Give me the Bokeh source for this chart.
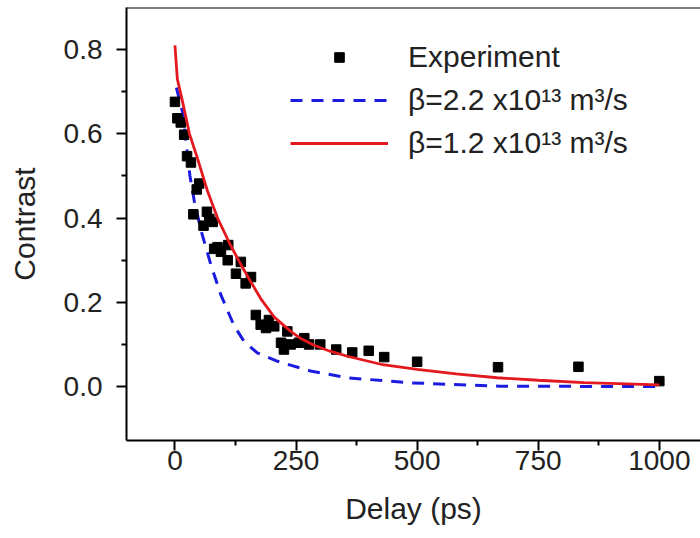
from bokeh.plotting import figure
from bokeh.models import Range1d, FixedTicker, Legend, LegendItem, Span, PrintfTickFormatter
from bokeh.embed import file_html
from bokeh.resources import INLINE

# ---- data ----
exp_delay = [0, 5, 12, 19, 25, 33, 38, 45, 50, 59, 66, 71, 78, 81, 88, 95, 110, 109, 126, 136,
             146, 157, 167, 177, 188, 194, 205, 219, 225, 232, 239, 256, 267, 277, 300, 333,
             366, 400, 432, 500, 667, 833, 1000]
exp_contrast = [0.676, 0.637, 0.627, 0.598, 0.547, 0.532, 0.409, 0.468, 0.482, 0.382, 0.415, 0.398,
                0.391, 0.327, 0.331, 0.320, 0.336, 0.300, 0.268, 0.296, 0.245, 0.260, 0.170, 0.147,
                0.139, 0.158, 0.143, 0.104, 0.088, 0.131, 0.100, 0.104, 0.115, 0.100, 0.100, 0.088,
                0.081, 0.085, 0.070, 0.059, 0.046, 0.047, 0.013]

fit22_delay = [3, 16, 23, 31, 40, 54, 74, 95, 122, 140, 155, 170, 212, 280, 356, 483, 672, 1000]
fit22_contrast = [0.71, 0.65, 0.58, 0.50, 0.44, 0.37, 0.29, 0.217, 0.145, 0.112, 0.095, 0.080,
                  0.06, 0.037, 0.021, 0.009, 0.001, 0.0]

fit12_delay = [0, 5, 15, 30, 47, 67, 88, 115, 136, 155, 177, 205, 239, 260, 287, 320, 356, 425,
               500, 580, 665, 750, 844, 1000]
fit12_contrast = [0.81, 0.73, 0.68, 0.60, 0.54, 0.465, 0.40, 0.335, 0.29, 0.252, 0.209, 0.165,
                  0.131, 0.114, 0.098, 0.084, 0.072, 0.053, 0.041, 0.030, 0.021, 0.015, 0.0094,
                  0.004]

x_ticks = [0, 250, 500, 750, 1000]
x_minor = [125, 375, 625, 875]
y_ticks = [0.0, 0.2, 0.4, 0.6, 0.8]
y_minor = [0.1, 0.3, 0.5, 0.7]
legend_labels = ["Experiment", "β=2.2 x10¹³ m³/s", "β=1.2 x10¹³ m³/s"]

FONT = "Liberation Sans"

p = figure(width=700, height=538, output_backend="svg", toolbar_location=None,
           x_range=Range1d(-100, 1085), y_range=Range1d(-0.128, 0.9),
           min_border_left=126, min_border_right=0, min_border_top=7, min_border_bottom=98)
p.grid.visible = False
p.outline_line_color = None
p.background_fill_color = "white"
p.border_fill_color = "white"

blue = p.line(fit22_delay, fit22_contrast, line_color="#1c1ce0", line_width=3, line_dash="12 9")
sc = p.scatter(exp_delay, exp_contrast, marker="square", size=9.5, fill_color="black",
               line_color="black")
red = p.line(fit12_delay, fit12_contrast, line_color="#e3191f", line_width=2.8)

top = Span(location=p.y_range.end, dimension="width", line_color="black", line_width=2)
p.add_layout(top)

for ax in (p.xaxis[0], p.yaxis[0]):
    ax.axis_line_width = 2
    ax.axis_line_color = "black"
    ax.major_tick_line_width = 2
    ax.minor_tick_line_width = 2
    ax.major_tick_out = 10
    ax.major_tick_in = 0
    ax.minor_tick_out = 5
    ax.minor_tick_in = 0
    ax.major_label_text_font = FONT
    ax.major_label_text_font_size = "28px"
    ax.major_label_text_color = "#222222"
    ax.axis_label_text_font = FONT
    ax.axis_label_text_font_size = "30px"
    ax.axis_label_text_font_style = "normal"
    ax.axis_label_text_color = "#222222"

p.xaxis.ticker = FixedTicker(ticks=x_ticks, minor_ticks=x_minor)
p.yaxis.ticker = FixedTicker(ticks=y_ticks, minor_ticks=y_minor)
p.yaxis.formatter = PrintfTickFormatter(format="%.1f")
p.xaxis.axis_label = "Delay (ps)"
p.yaxis.axis_label = "Contrast"
p.xaxis.major_label_standoff = 0
p.xaxis.axis_label_standoff = 19
p.yaxis.major_label_standoff = 14
p.yaxis.axis_label_standoff = 20

legend = Legend(items=[LegendItem(label=legend_labels[0], renderers=[sc]),
                       LegendItem(label=legend_labels[1], renderers=[blue]),
                       LegendItem(label=legend_labels[2], renderers=[red])],
                location=(164, 277), glyph_width=98, glyph_height=24, label_height=40,
                spacing=3, label_standoff=20, padding=0, margin=0,
                border_line_color=None, background_fill_alpha=0,
                label_text_font=FONT, label_text_font_size="30px",
                label_text_color="#222222")
p.add_layout(legend)

open("out.html", "w").write(file_html(p, INLINE))
